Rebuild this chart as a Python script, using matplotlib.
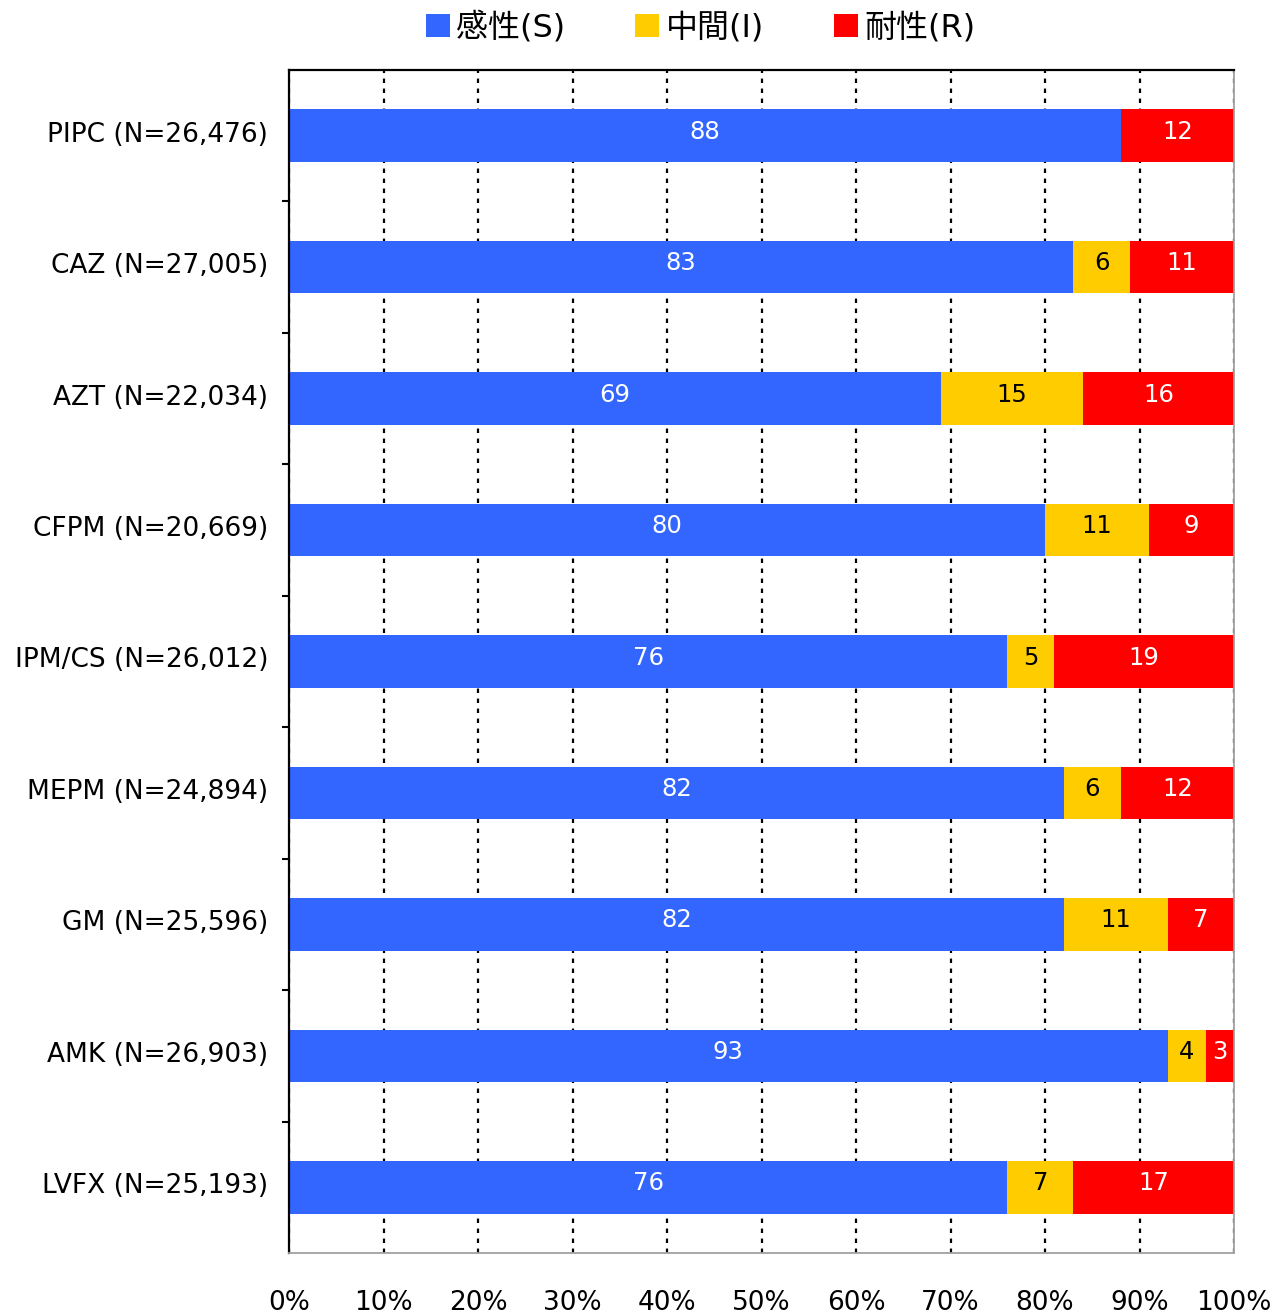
import numpy as np
import matplotlib
matplotlib.use("Agg")
import matplotlib.pyplot as plt
import matplotlib.transforms as mtransforms
from matplotlib.patches import Patch

plt.rcParams['font.family'] = ['DejaVu Sans', 'Noto Sans CJK JP']

# data
drugs = ["PIPC (N=26,476)", "CAZ (N=27,005)", "AZT (N=22,034)", "CFPM (N=20,669)",
         "IPM/CS (N=26,012)", "MEPM (N=24,894)", "GM (N=25,596)", "AMK (N=26,903)",
         "LVFX (N=25,193)"]
sus = [88, 83, 69, 80, 76, 82, 82, 93, 76]
mid = [0, 6, 15, 11, 5, 6, 11, 4, 7]
res = [12, 11, 16, 9, 19, 12, 7, 3, 17]
series_names = ["感性(S)", "中間(I)", "耐性(R)"]
colors = ["#3366FF", "#FFCC00", "#FF0000"]
text_colors = ["white", "black", "white"]
xticks = np.arange(0, 101, 10)
xtick_labels = [f"{v}%" for v in xticks]

fig = plt.figure(figsize=(12.74, 13.14), dpi=100)
ax = fig.add_axes([289/1274, 1-1253/1314, (1234-289)/1274, (1253-70)/1314])

y = np.arange(len(drugs))
left = np.zeros(len(drugs))
for vals, c, tc in zip([sus, mid, res], colors, text_colors):
    vals = np.array(vals, dtype=float)
    ax.barh(y, vals, left=left, height=0.40, color=c, linewidth=0, zorder=2)
    for yi, l, v in zip(y, left, vals):
        if v > 0:
            ax.text(l + v/2, yi - 0.03, f"{int(v)}", ha="center", va="center",
                    color=tc, fontsize=17.5, zorder=3)
    left += vals

ax.set_xlim(0, 100)
ax.set_ylim(len(drugs) - 0.5, -0.5)
ax.set_xticks(xticks)
ax.set_xticklabels(xtick_labels, fontsize=19)
ax.set_yticks(y)
ax.set_yticklabels(drugs, fontsize=19)
ax.set_yticks(np.arange(0.5, len(drugs) - 1, 1), minor=True)
ax.tick_params(axis="x", length=0, pad=27)
ax.tick_params(axis="y", which="major", length=0, pad=15)
ax.tick_params(axis="y", which="minor", length=5, width=1.5, direction="out")

# nudge y labels up a little
shift = mtransforms.ScaledTranslation(0, 4/100, fig.dpi_scale_trans)
for lbl in ax.get_yticklabels():
    lbl.set_transform(lbl.get_transform() + shift)

ax.xaxis.grid(True, color="black", linestyle=(0, (2, 2.5)), linewidth=1.6, zorder=1)
ax.set_axisbelow(True)

for s in ["left", "top"]:
    ax.spines[s].set_linewidth(1.6)
    ax.spines[s].set_color("black")
for s in ["right", "bottom"]:
    ax.spines[s].set_linewidth(1.3)
    ax.spines[s].set_color("#a0a0a0")

handles = [Patch(facecolor=c, edgecolor="none") for c in colors]
fig.legend(handles, series_names, loc="center", bbox_to_anchor=(0.55, 0.979),
           ncol=3, frameon=False, prop={"family": ["DejaVu Sans", "Noto Sans CJK JP"], "size": 23},
           handlelength=0.75, handleheight=0.75, handletextpad=0.2, columnspacing=2.2)

fig.savefig("out.png", dpi=100)
